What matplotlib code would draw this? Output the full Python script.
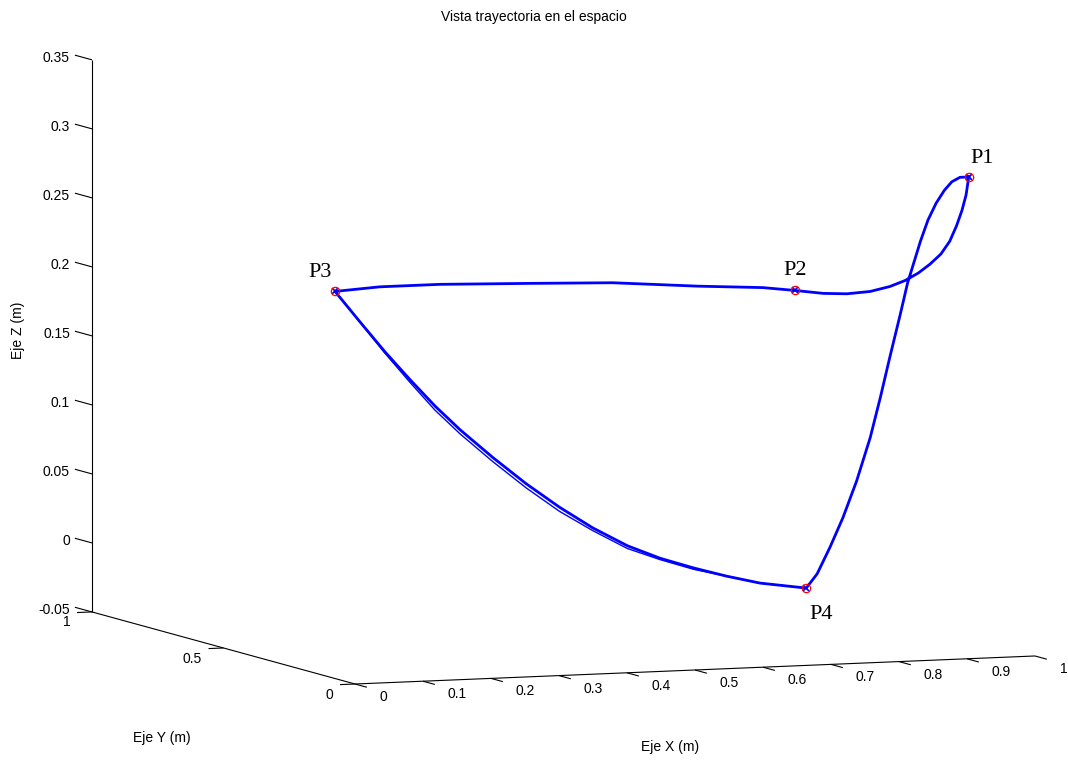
import numpy as np
import matplotlib
matplotlib.use("Agg")
import matplotlib.pyplot as plt
from mpl_toolkits.mplot3d import proj3d

# ---------------------------------------------------------------------------
# Trajectory data (metres): closed path P1 -> P2 -> P3 -> P4 -> P1
# ---------------------------------------------------------------------------
traj_x = [0.980, 0.976, 0.970, 0.962, 0.952, 0.939, 0.923, 0.906, 0.887, 0.864, 0.835, 0.801,
          0.766, 0.724,
          0.677, 0.581, 0.456, 0.335, 0.202, 0.114, 0.048,
          0.085, 0.121, 0.158, 0.195, 0.232, 0.280, 0.329, 0.378, 0.427, 0.478, 0.526, 0.575,
          0.624, 0.673, 0.741,
          0.757, 0.776, 0.795, 0.815, 0.835, 0.850, 0.864, 0.879, 0.890, 0.909, 0.920, 0.932,
          0.944, 0.955, 0.967, 0.980]
traj_z = [0.287, 0.274, 0.263, 0.252, 0.241, 0.232, 0.225, 0.219, 0.214, 0.210, 0.207, 0.206,
          0.207, 0.210,
          0.213, 0.216, 0.221, 0.223, 0.225, 0.225, 0.223,
          0.200, 0.178, 0.157, 0.137, 0.119, 0.098, 0.078, 0.060, 0.044, 0.030, 0.020, 0.012,
          0.005, -0.001, -0.006,
          0.004, 0.023, 0.044, 0.070, 0.101, 0.130, 0.159, 0.189, 0.212, 0.242, 0.257, 0.269,
          0.278, 0.284, 0.287, 0.287]
traj_y = [0.2] * len(traj_x)

# second pass over the P3 -> P4 stretch
pass2_x = [0.048, 0.085, 0.121, 0.158, 0.195, 0.232, 0.280, 0.329, 0.378, 0.427, 0.478,
           0.526, 0.575, 0.624, 0.673, 0.741]
pass2_z = [0.223, 0.200, 0.177, 0.155, 0.134, 0.116, 0.095, 0.075, 0.057, 0.042, 0.028,
           0.019, 0.011, 0.005, -0.001, -0.006]
pass2_y = [0.2] * len(pass2_x)

# via points
pts_name = ["P1", "P2", "P3", "P4"]
pts_x = [0.980, 0.724, 0.048, 0.741]
pts_y = [0.2, 0.2, 0.2, 0.2]
pts_z = [0.287, 0.210, 0.223, -0.006]

# axis ticks
x_ticks = [0, 0.1, 0.2, 0.3, 0.4, 0.5, 0.6, 0.7, 0.8, 0.9, 1]
x_tick_labels = ["0", "0.1", "0.2", "0.3", "0.4", "0.5", "0.6", "0.7", "0.8", "0.9", "1"]
y_ticks = [0, 0.5, 1]
y_tick_labels = ["0", "0.5", "1"]
z_ticks = [-0.05, 0, 0.05, 0.1, 0.15, 0.2, 0.25, 0.3, 0.35]
z_tick_labels = ["-0.05", "0", "0.05", "0.1", "0.15", "0.2", "0.25", "0.3", "0.35"]

XLIM, YLIM, ZLIM = (0, 1), (0, 1), (-0.05, 0.35)

# ---------------------------------------------------------------------------
W, H = 1068, 763
fig = plt.figure(figsize=(W / 100, H / 100), dpi=100)
fig.patch.set_facecolor("white")
ax = fig.add_axes([0.1, 0.1, 0.6, 0.6 * W / H], projection="3d", proj_type="ortho")
ax.set_xlim(*XLIM)
ax.set_ylim(*YLIM)
ax.set_zlim(*ZLIM)
ax.set_xticks([])
ax.set_yticks([])
ax.set_zticks([])
ax.set_box_aspect((729, 727, 555))
ax.view_init(elev=6.1, azim=-111.2)
ax.set_axis_off()

# place the 3D box on the canvas: origin corner and the horizontal extent
ax.apply_aspect()
M = ax.get_proj()


def proj2d(x, y, z):
    X, Y, _ = proj3d.proj_transform(x, y, z, M)
    return X, Y


def to_px(x, y, z):
    return ax.transData.transform(proj2d(x, y, z))


o = to_px(XLIM[0], YLIM[0], ZLIM[0])
xe = to_px(XLIM[1], YLIM[0], ZLIM[0])
ye = to_px(XLIM[0], YLIM[1], ZLIM[0])
f = (1035 - 92) / (xe[0] - ye[0])
pos = ax.get_position()
cx = (pos.x0 + pos.width / 2) * W
cy = (pos.y0 + pos.height / 2) * H
goal = (355, H - 684)
ncx = goal[0] - f * (o[0] - cx)
ncy = goal[1] - f * (o[1] - cy)
nw = pos.width * W * f
nh = pos.height * H * f
ax.set_position([(ncx - nw / 2) / W, (ncy - nh / 2) / H, nw / W, nh / H])


def text3d(x, y, z, s, **kw):
    """Place a flat text at the projected position of a 3D point."""
    X, Y = proj2d(x, y, z)
    return ax.text2D(X, Y, s, transform=ax.transData, **kw)


# ---------------------------------------------------------------------------
# axis lines, ticks and tick labels
axis_kw = dict(color="black", lw=0.8, solid_capstyle="butt")
z0 = ZLIM[0]
ax.plot([0, 1], [0, 0], [z0, z0], **axis_kw)
ax.plot([0, 0], [0, 1], [z0, z0], **axis_kw)
ax.plot([0, 0], [1, 1], [z0, ZLIM[1]], **axis_kw)

tick_font = dict(family="Liberation Sans", size=10)
for t, lab in zip(x_ticks, x_tick_labels):
    ax.plot([t, t], [0, -0.045], [z0, z0], **axis_kw)
    text3d(t, -0.095, z0 - 0.0045, lab, ha="left", va="center", fontdict=tick_font)
for t, lab in zip(y_ticks, y_tick_labels):
    ax.plot([0, -0.022], [t, t], [z0, z0], **axis_kw)
    text3d(-0.032, t, z0 - 0.007, lab, ha="right", va="center", fontdict=tick_font)
for t, lab in zip(z_ticks, z_tick_labels):
    ax.plot([0, 0], [1, 1.065], [t, t], **axis_kw)
    text3d(0, 1.084, t - 0.003, lab, ha="right", va="center", fontdict=tick_font)

# ---------------------------------------------------------------------------
# trajectory
ax.plot(traj_x, traj_y, traj_z, color="#0000ff", lw=2.0, solid_joinstyle="round")
ax.plot(pass2_x, pass2_y, pass2_z, color="#0000ff", lw=1.0)
ax.plot(pts_x, pts_y, pts_z, ls="none", marker="x", ms=5, mew=1.2, color="#0000ff")
ax.plot(pts_x, pts_y, pts_z, ls="none", marker="o", ms=6, mew=0.9,
        mfc="none", mec="#ff0000")

label_offsets = [(0.02, 0.013), (0.0, 0.0145), (-0.022, 0.014), (0.022, -0.0195)]
for name, x, y, z, (dx, dz) in zip(pts_name, pts_x, pts_y, pts_z, label_offsets):
    text3d(x + dx, y, z + dz, name, ha="center", va="center",
           family="Liberation Serif", size=16)

# ---------------------------------------------------------------------------
label_font = dict(family="Liberation Sans", size=10)
fig.text(534 / W, 1 - 17 / H, "Vista trayectoria en el espacio", ha="center",
         va="center", **label_font)
fig.text(670 / W, 1 - 747 / H, "Eje X (m)", ha="center", va="center", **label_font)
fig.text(162 / W, 1 - 738 / H, "Eje Y (m)", ha="center", va="center", **label_font)
fig.text(18 / W, 1 - 330 / H, "Eje Z (m)", ha="center", va="center", rotation=90,
         **label_font)

fig.savefig("out.png", dpi=100, facecolor="white")
